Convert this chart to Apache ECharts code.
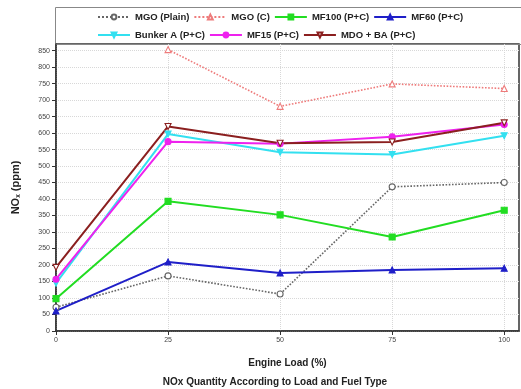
<!DOCTYPE html>
<html><head><meta charset="utf-8">
<script src="https://cdn.jsdelivr.net/npm/echarts@6/dist/echarts.min.js"></script>
<style>html,body{margin:0;padding:0;background:#fff}#c{width:521px;height:389px}</style>
</head><body><div id="c"></div>
<script>
const loads = [0, 25, 50, 75, 100];
const yTicks = [0,50,100,150,200,250,300,350,400,450,500,550,600,650,700,750,800,850];
const mgoPlain = [72, 167, 112, 437, 450];
const mgoC = [null, 853, 681, 749, 735];
const mf100 = [98, 393, 352, 285, 366];
const mf60 = [61, 209, 176, 185, 190];
const bunkerA = [145, 597, 542, 535, 592];
const mf15 = [157, 574, 568, 589, 626];
const mdoBa = [193, 620, 569, 573, 631];

const pair = arr => loads.map((x, i) => [x, arr[i]]);
const mk = (name, data, color, symbol, hollow, dotted, width) => ({
  name, type: 'line', data: pair(data), symbol, symbolSize: 6,
  connectNulls: false,
  lineStyle: { color, width: width || 2, type: dotted ? 'dotted' : 'solid' },
  itemStyle: { color: hollow ? '#fff' : color, borderColor: color, borderWidth: 1.1 },
  emphasis: { disabled: true }
});
const series = [
  mk('MGO (Plain)', mgoPlain, '#666666', 'circle', true, true, 1.6),
  mk('MGO (C)', mgoC, '#ee7b7b', 'triangle', true, true, 1.6),
  mk('MF100 (P+C)', mf100, '#22dd22', 'rect', false, false),
  mk('MF60 (P+C)', mf60, '#1f1fc8', 'triangle', false, false),
  mk('Bunker A (P+C)', bunkerA, '#33e0f0', 'path://M0,0 L10,0 L5,10 Z', false, false),
  mk('MF15 (P+C)', mf15, '#ee22ee', 'circle', false, false),
  mk('MDO + BA (P+C)', mdoBa, '#8b1f1f', 'path://M0,0 L10,0 L5,10 Z', true, false)
];
const legendText = { fontFamily: 'Liberation Sans', fontWeight: 'bold', fontSize: 9.5, color: '#222' };
const chart = echarts.init(document.getElementById('c'));
chart.setOption({
  animation: false,
  backgroundColor: '#fff',
  title: { text: 'NOx Quantity According to Load and Fuel Type', left: 270, textAlign: 'center', top: 372,
    textStyle: { fontFamily: 'Liberation Sans', fontWeight: 'bold', fontSize: 10, color: '#222' } },
  legend: [
    { data: series.slice(0,4).map(s => s.name), left: 97, top: 12, itemWidth: 32, itemHeight: 6, itemGap: 4, textStyle: legendText, padding: 0 },
    { data: series.slice(4).map(s => s.name), left: 97, top: 30, itemWidth: 32, itemHeight: 6, itemGap: 4, textStyle: legendText, padding: 0 }
  ],
  graphic: [{ type: 'rect', shape: { x: 55.5, y: 7.5, width: 470, height: 37 }, style: { fill: 'none', stroke: '#888', lineWidth: 1 }, silent: true }],
  grid: { left: 56, right: 2, top: 44, bottom: 58, show: true, borderColor: '#333', borderWidth: 1.5 },
  xAxis: {
    type: 'value', min: 0, max: 103.3, interval: 25,
    name: 'Engine Load (%)', nameLocation: 'middle', nameGap: 27,
    nameTextStyle: { fontFamily: 'Liberation Sans', fontWeight: 'bold', fontSize: 10, color: '#222' },
    axisLine: { lineStyle: { color: '#333', width: 1.5 } },
    axisTick: { customValues: loads, length: 4, lineStyle: { color: '#333' } },
    axisLabel: { customValues: loads, fontSize: 7, color: '#444', fontFamily: 'Liberation Sans', margin: 6 },
    splitLine: { show: true, lineStyle: { color: '#d8d8d8', type: 'dotted' } }
  },
  yAxis: {
    type: 'value', min: 0, max: 870, interval: 50,
    name: '{a|NO}{s|x}{a| (ppm)}', nameLocation: 'middle', nameGap: 34, nameRotate: 90,
    nameTextStyle: { rich: {
      a: { fontFamily: 'Liberation Sans', fontWeight: 'bold', fontSize: 11, color: '#222' },
      s: { fontFamily: 'Liberation Sans', fontWeight: 'bold', fontSize: 6.5, color: '#222', verticalAlign: 'bottom', padding: [6,0,0,0] }
    } },
    axisLine: { show: true, lineStyle: { color: '#333', width: 1.5 } },
    axisTick: { show: true, customValues: yTicks, length: 4, lineStyle: { color: '#333' } },
    axisLabel: { customValues: yTicks, fontSize: 7, color: '#444', fontFamily: 'Liberation Sans', margin: 6 },
    splitLine: { show: true, lineStyle: { color: '#d8d8d8', type: 'dotted' } }
  },
  series
});
</script></body></html>
